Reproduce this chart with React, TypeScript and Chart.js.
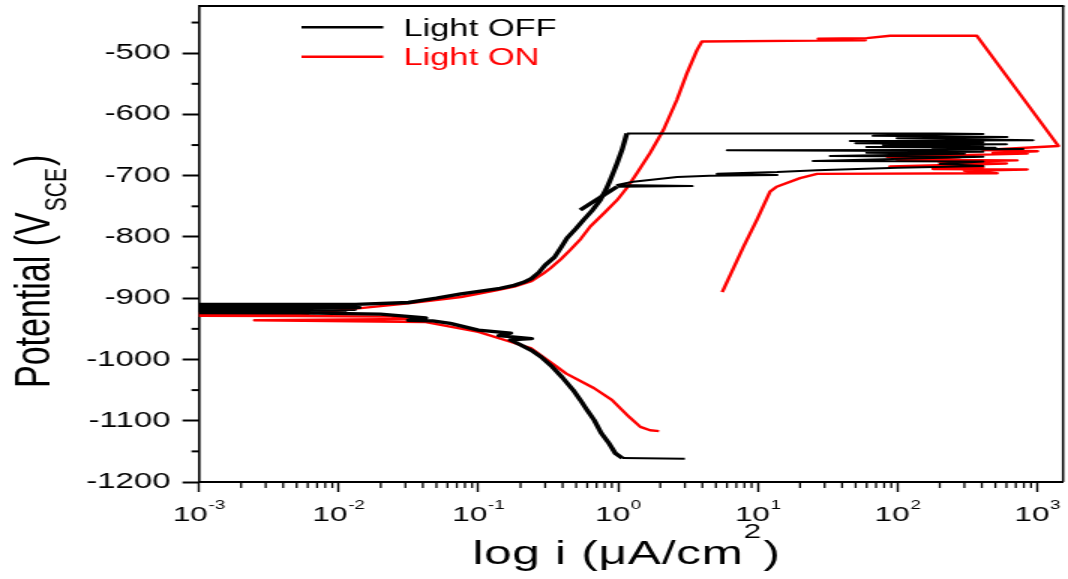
import { useEffect, useRef } from 'react';
import { Chart, registerables } from 'chart.js';

Chart.register(...registerables);

const FONT = "'Liberation Sans', Arial, Helvetica, sans-serif";
const PAGE_W = 1068;
const PAGE_H = 579;
const STRETCH = 1.5;
const CANVAS_W = Math.round(PAGE_W / STRETCH);

// ---- Light OFF (black) : current (uA/cm2) and potential (mV vs SCE)
const offCurrent = [
  3.0, 1.07, 0.953, 0.848, 0.755, 0.673, 0.6, 0.535, 0.476, 0.397, 0.337, 0.281, 0.239, 0.2,
  0.169, 0.24, 0.14, 0.17, 0.0998, 0.0628, 0.047, 0.0315, 0.042, 0.0199, 0.0053, 0.0002,
  0.011, 0.0002, 0.013, 0.0002, 0.014, 0.0002, 0.012, 0.0002,
  0.0132, 0.0315, 0.05, 0.075, 0.143, 0.18, 0.21, 0.239, 0.27, 0.3, 0.35, 0.39, 0.43, 0.5, 0.565,
  0.65, 0.743, 0.82, 0.877, 0.93, 0.98, 1.064, 1.153,
  201, 408, 66.7, 606, 99, 930, 45.7, 408, 50, 600, 78.7, 408, 60, 500, 179, 789, 137.7, 6.02,
  137.7, 408, 60, 300, 32.9, 408, 24.8, 408, 200, 408, 100, 26.5, 13.7, 5.11, 13.7, 4.5, 2.64,
  1.28, 0.984, 3.38, 0.98, 0.535,
];
const offPotential = [
  -1162, -1161, -1153, -1135, -1120, -1099, -1083, -1066, -1050, -1029, -1012, -996, -985, -976,
  -968, -966, -961, -957, -952, -941, -937, -936, -932, -926, -924, -923,
  -921.5, -920, -918, -916.5, -915, -913, -911.5, -910,
  -910, -907, -900, -893, -884, -879, -874, -868, -858, -846, -833, -817, -802, -786, -772,
  -757, -740, -722, -707, -693, -680, -658, -631,
  -631, -632, -635, -637, -639, -642, -643.5, -645.5, -647, -648.5, -650, -651.5, -653, -654.5, -655.5, -656.5, -658, -658.5,
  -659.5, -661, -662.5, -664, -668, -669, -676, -677, -681, -684, -687, -691, -694, -697, -699, -700, -702,
  -710, -715, -717, -718, -756,
];

// ---- Light ON (red)
const onCurrent = [
  1.96, 1.69, 1.44, 1.2, 0.9, 0.673, 0.425, 0.354, 0.239, 0.169, 0.0998, 0.042, 0.0025, 0.035,
  0.0236, 0.005, 0.0002, 0.006, 0.0002,
  0.0066, 0.0132, 0.0315, 0.075, 0.134, 0.18, 0.239, 0.29, 0.327, 0.39, 0.454, 0.54, 0.631, 0.8,
  0.98, 1.17, 1.36, 1.69, 2.11, 2.63, 3.1, 3.66, 3.97, 27.1, 58.5, 27, 60, 88.3, 368, 1412,
  408, 1000, 481, 843, 84, 279, 99, 715, 200, 600, 88, 408, 179, 843, 300, 514, 26.5,
  20, 13.6, 12.2, 9.82, 7.87, 5.55,
];
const onPotential = [
  -1117, -1115.5, -1110, -1094, -1066, -1047, -1023, -1010, -982, -971, -955, -939, -936, -934,
  -930, -929, -928.5, -927, -925,
  -924.5, -917, -908.5, -898, -887, -881, -872, -860, -851, -836, -821, -803, -783, -760,
  -740, -718, -696, -663, -625, -576, -533, -495, -481, -479.5, -479, -476.5, -475.5, -471.5, -471.5, -651.5,
  -658, -660, -663, -664, -669, -670, -674, -675, -678, -680, -685, -686, -689, -690, -692, -696, -697,
  -704, -718, -726, -772, -816, -890,
];

const seriesNames = ['Light OFF', 'Light ON'];
const seriesColors = ['#000000', '#ff0000'];

const X_MIN = 1e-3;
const X_MAX = 1525;
const Y_MIN = -1200;
const Y_MAX = -423;
const xTickValues = [1e-3, 1e-2, 1e-1, 1, 10, 100, 1000];
const xTickBase = '10';
const xTickExponents = ['-3', '-2', '-1', '0', '1', '2', '3'];
const yTickValues = [-1200, -1100, -1000, -900, -800, -700, -600, -500];
const yMinorTicks = [-1150, -1050, -950, -850, -750, -650, -550, -450];
const xTitleMain = 'log i (μA/cm';
const xTitleSup = '2';
const yTitleMain = 'Potential (V';
const yTitleSub = 'SCE';

const zip = (xs: number[], ys: number[]) => xs.map((x, i) => ({ x, y: ys[i] }));

const decorPlugin = {
  id: 'decor',
  afterDraw(chart: any) {
    const { ctx, chartArea: ca, scales } = chart;
    const xs = scales.x;
    const ys = scales.y;
    ctx.save();
    ctx.strokeStyle = '#000';
    ctx.fillStyle = '#000';
    // frame: top and right
    ctx.lineWidth = 2;
    ctx.beginPath();
    ctx.moveTo(ca.left, ca.top);
    ctx.lineTo(ca.right + 0.8, ca.top);
    ctx.stroke();
    ctx.lineWidth = 1.5;
    ctx.beginPath();
    ctx.moveTo(ca.right, ca.top);
    ctx.lineTo(ca.right, ca.bottom);
    ctx.stroke();
    // minor x ticks
    ctx.lineWidth = 1.3;
    for (let d = -3; d <= 3; d++) {
      for (let k = 2; k <= 9; k++) {
        const v = k * Math.pow(10, d);
        if (v > xs.max) continue;
        const px = xs.getPixelForValue(v);
        ctx.beginPath();
        ctx.moveTo(px, ca.bottom);
        ctx.lineTo(px, ca.bottom + 6);
        ctx.stroke();
      }
    }
    // minor y ticks
    ctx.lineWidth = 2;
    for (const v of yMinorTicks) {
      const py = ys.getPixelForValue(v);
      ctx.beginPath();
      ctx.moveTo(ca.left - 5, py);
      ctx.lineTo(ca.left, py);
      ctx.stroke();
    }
    // x tick labels with superscript exponents
    ctx.textAlign = 'left';
    ctx.textBaseline = 'alphabetic';
    xTickValues.forEach((v, i) => {
      const px = xs.getPixelForValue(v);
      ctx.font = `21px ${FONT}`;
      const wb = ctx.measureText(xTickBase).width;
      ctx.font = `12.5px ${FONT}`;
      const we = ctx.measureText(xTickExponents[i]).width;
      const start = px - (wb + we + 0.5) / 2;
      ctx.font = `21px ${FONT}`;
      ctx.fillText(xTickBase, start, 520.7);
      ctx.font = `12.5px ${FONT}`;
      ctx.fillText(xTickExponents[i], start + wb + 0.5, 508.5);
    });
    // x title with superscript
    ctx.save();
    (ctx as any).letterSpacing = '0.5px';
    ctx.font = `33px ${FONT}`;
    const wm = ctx.measureText(xTitleMain).width;
    const wc = ctx.measureText(')').width;
    ctx.font = `21px ${FONT}`;
    const ws = ctx.measureText(xTitleSup).width;
    const total = wm + ws + wc + 1;
    const tx = (ca.left + ca.right) / 2 - 3 - total / 2;
    ctx.font = `33px ${FONT}`;
    ctx.fillText(xTitleMain, tx, 563.5);
    ctx.font = `21px ${FONT}`;
    ctx.fillText(xTitleSup, tx + wm, 537.5);
    ctx.font = `33px ${FONT}`;
    ctx.fillText(')', tx + wm + ws + 1, 563.5);
    ctx.restore();
    // legend
    const legendRows = [27.3, 56.7];
    seriesNames.forEach((name, i) => {
      const ly = legendRows[i];
      ctx.strokeStyle = seriesColors[i];
      ctx.lineWidth = 2.5;
      ctx.beginPath();
      ctx.moveTo(201, ly);
      ctx.lineTo(255.5, ly);
      ctx.stroke();
      ctx.fillStyle = seriesColors[i];
      ctx.font = `23px ${FONT}`;
      ctx.textAlign = 'left';
      ctx.textBaseline = 'alphabetic';
      ctx.fillText(name, 268.9, ly + 8.3);
    });
    // y title with subscript
    ctx.fillStyle = '#000';
    ctx.translate(33.3, 388);
    ctx.rotate(-Math.PI / 2);
    ctx.textAlign = 'left';
    ctx.textBaseline = 'alphabetic';
    ctx.font = `34px ${FONT}`;
    ctx.fillText(yTitleMain, 0, 0);
    let w = ctx.measureText(yTitleMain).width;
    ctx.font = `21px ${FONT}`;
    ctx.fillText(yTitleSub, w + 1, 11);
    w += ctx.measureText(yTitleSub).width + 3;
    ctx.font = `34px ${FONT}`;
    ctx.fillText(')', w, 0);
    ctx.restore();
  },
};

export default function App() {
  const ref = useRef<HTMLCanvasElement>(null);
  useEffect(() => {
    const canvas = ref.current;
    if (!canvas) return;
    const chart = new Chart(canvas, {
      type: 'scatter',
      data: {
        datasets: [
          {
            label: seriesNames[0],
            data: zip(offCurrent, offPotential),
            showLine: true,
            borderColor: seriesColors[0],
            backgroundColor: seriesColors[0],
            borderWidth: 2,
            pointRadius: 0,
            borderJoinStyle: 'round',
            segment: {
              borderWidth: (c: any) => (c.p0.parsed.x < 1.2 && c.p1.parsed.x < 1.2 ? 3.4 : 2),
            },
          } as any,
          {
            label: seriesNames[1],
            data: zip(onCurrent, onPotential),
            showLine: true,
            borderColor: seriesColors[1],
            backgroundColor: seriesColors[1],
            borderWidth: 2.4,
            pointRadius: 0,
            borderJoinStyle: 'round',
          } as any,
        ],
      },
      options: {
        responsive: false,
        animation: false,
        devicePixelRatio: 1,
        events: [],
        layout: { padding: { left: 0, right: 3.3, top: 6, bottom: 0 } },
        plugins: { legend: { display: false }, tooltip: { enabled: false }, title: { display: false } },
        scales: {
          x: {
            type: 'logarithmic',
            min: X_MIN,
            max: X_MAX,
            afterBuildTicks: (s: any) => {
              s.ticks = xTickValues.map((v) => ({ value: v, major: true }));
            },
            afterFit: (s: any) => {
              s.height = 97;
              s.paddingLeft = 0;
              s.paddingRight = 0;
            },
            ticks: { display: false, autoSkip: false, maxRotation: 0 },
            grid: { display: true, drawOnChartArea: false, drawTicks: true, tickLength: 10, tickWidth: 1.4, tickColor: '#000' },
            border: { display: true, color: '#000', width: 2 },
            title: { display: false },
          },
          y: {
            type: 'linear',
            min: Y_MIN,
            max: Y_MAX,
            afterBuildTicks: (s: any) => {
              s.ticks = yTickValues.map((v) => ({ value: v }));
            },
            afterFit: (s: any) => {
              s.width = 199 / STRETCH;
              s.paddingTop = 0;
              s.paddingBottom = 0;
            },
            ticks: {
              padding: 8,
              color: '#000',
              font: { family: FONT, size: 22 },
              callback: (v: any) => String(v),
            },
            grid: { display: true, drawOnChartArea: false, drawTicks: true, tickLength: 11, tickWidth: 2, tickColor: '#000' },
            border: { display: true, color: '#000', width: 1.6 },
            title: { display: false },
          },
        },
      } as any,
      plugins: [decorPlugin],
    });
    return () => chart.destroy();
  }, []);
  return (
    <div style={{ position: 'fixed', left: 0, top: 0, width: PAGE_W, height: PAGE_H, background: '#fff' }}>
      <canvas
        ref={ref}
        width={CANVAS_W}
        height={PAGE_H}
        style={{ width: PAGE_W + 'px', height: PAGE_H + 'px', display: 'block' }}
      />
    </div>
  );
}
